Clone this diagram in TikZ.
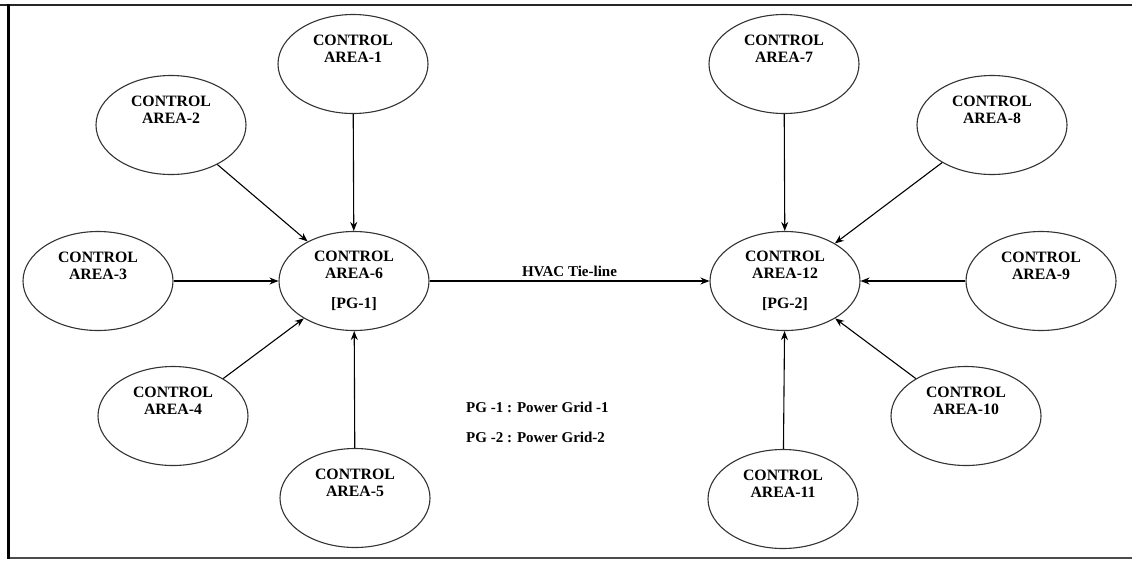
\documentclass[tikz,border=0pt]{standalone}
\usepackage{fontspec}
\setmainfont{Liberation Serif}
\usetikzlibrary{shapes.geometric,arrows.meta}
\tikzset{
  area/.style={ellipse,draw=black!80,line width=1.1pt,minimum width=150pt,minimum height=99pt,inner sep=0pt,
    align=center,font=\fontsize{15.8}{17.5}\selectfont\bfseries},
  link/.style={line width=1.1pt,-{Stealth[length=9pt,width=7pt]}},
  lab/.style={font=\fontsize{15}{17}\selectfont\bfseries,inner sep=0pt}
}
\begin{document}
\begin{tikzpicture}[x=1pt,y=-1pt]
\useasboundingbox (0,0) rectangle (1132,560);
\draw[black!85,line width=2pt] (0,5) -- (1132,5);
\draw[black!70,line width=2pt] (8,558) -- (1132,558);
\draw[black,line width=3pt] (8,4) -- (8,559);
% left grid
\node[area] (a1) at (353,64) {CONTROL\\AREA-1\\[-5pt]~\\~};
\node[area] (a2) at (171,125) {CONTROL\\AREA-2\\[-5pt]~\\~};
\node[area] (a3) at (98,281) {CONTROL\\AREA-3\\[-5pt]~\\~};
\node[area] (a4) at (173,416) {CONTROL\\AREA-4\\[-5pt]~\\~};
\node[area] (a5) at (355,498) {CONTROL\\AREA-5\\[-5pt]~\\~};
\node[area] (a6) at (354,281) {CONTROL\\AREA-6\\[-5pt]~\\{}[PG-1]};
% right grid
\node[area] (a7) at (784,64) {CONTROL\\AREA-7\\[-5pt]~\\~};
\node[area] (a8) at (992,125) {CONTROL\\AREA-8\\[-5pt]~\\~};
\node[area] (a9) at (1041,281) {CONTROL\\AREA-9\\[-5pt]~\\~};
\node[area] (a10) at (966,416) {CONTROL\\AREA-10\\[-5pt]~\\~};
\node[area] (a11) at (783,499) {CONTROL\\AREA-11\\[-5pt]~\\~};
\node[area] (a12) at (785,281) {CONTROL\\AREA-12\\[-5pt]~\\{}[PG-2]};
% connectors
\draw[link] (a1) -- (a6);
\draw[link] (a2) -- (a6);
\draw[link] (a3) -- (a6);
\draw[link] (a4) -- (a6);
\draw[link] (a5) -- (a6);
\draw[link] (a7) -- (a12);
\draw[link] (a8) -- (a12);
\draw[link] (a9) -- (a12);
\draw[link] (a10) -- (a12);
\draw[link] (a11) -- (a12);
\draw[link] (a6) -- node[lab,above=4pt] (tie) {HVAC Tie-line} (a12);
% legend
\node[lab,anchor=west] (l1) at (466,407) {PG -1 : Power Grid -1};
\node[lab,anchor=west] (l2) at (466,437) {PG -2 : Power Grid-2};
\end{tikzpicture}
\end{document}
